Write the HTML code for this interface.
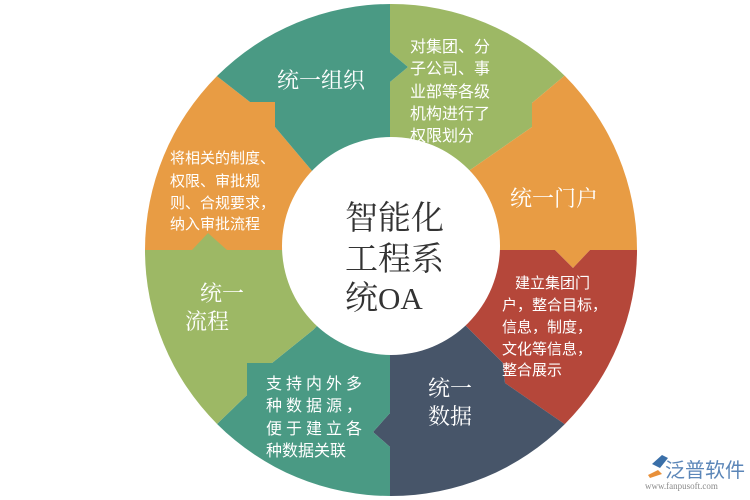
<!DOCTYPE html>
<html><head><meta charset="utf-8"><style>
html,body{margin:0;padding:0;background:#fff;width:750px;height:500px;overflow:hidden}
svg{display:block}
text{font-family:"Liberation Serif","Noto Serif CJK SC",serif;fill:#fff}
.s{font-family:"Liberation Sans","Noto Sans CJK SC",sans-serif}
</style></head><body>
<svg width="750" height="500" viewBox="0 0 750 500" xmlns="http://www.w3.org/2000/svg">
<defs><clipPath id="c"><circle cx="391" cy="250" r="246"/></clipPath></defs>
<g clip-path="url(#c)">
<polygon fill="#e89c44" points="0,0 120,0 218,77 250,102 275,102 275,127 313,172 390,250 0,250"/>
<polygon fill="#9db865" points="390,0 655,0 563,77 532,103 532,127 470,170 390,250 390,82 408,67 390,52"/>
<polygon fill="#4a9a84" points="390,0 390,52 408,67 390,82 390,250 313,172 275,127 275,102 250,102 218,77 120,0"/>
<polygon fill="#e89c44" points="655,0 750,0 750,250 590,250 573,268 555,250 390,250 470,170 532,127 532,103 563,77"/>
<polygon fill="#b5473a" points="390,250 555,250 573,268 590,250 750,250 750,500 675,500 563,423 505,383 503,363 470,330"/>
<polygon fill="#475569" points="390,250 470,330 503,363 505,383 563,423 675,500 390,500 390,447 373,432 390,413"/>
<polygon fill="#4a9a84" points="390,250 390,413 373,432 390,447 390,500 141,500 218,423 247,395 247,363 272,363 313,330"/>
<polygon fill="#9db865" points="390,250 313,330 272,363 247,363 247,395 218,423 141,500 0,500 0,250 192,250 208,233 227,250"/>
</g>
<circle cx="391" cy="246" r="109" fill="#fff"/>
<g font-size="33">
<text x="345" y="229" style="fill:#333">智能化</text>
<text x="345" y="270" style="fill:#333">工程系</text>
<text x="345" y="309" style="fill:#333">统<tspan font-size="31">OA</tspan></text>
</g>
<text x="277" y="88" font-size="22">统一组织</text>
<g font-size="16">
<text class="s" x="410" y="52">对集团、分</text>
<text class="s" x="410" y="74">子公司、事</text>
<text class="s" x="410" y="97">业部等各级</text>
<text class="s" x="410" y="119">机构进行了</text>
<text class="s" x="410" y="141">权限划分</text>
</g>
<text x="510" y="206" font-size="22">统一门户</text>
<g font-size="15">
<text class="s" x="170" y="163">将相关的制度、</text>
<text class="s" x="170" y="186">权限、审批规</text>
<text class="s" x="170" y="208">则、合规要求，</text>
<text class="s" x="170" y="229">纳入审批流程</text>
</g>
<text x="200" y="301" font-size="22">统一</text>
<text x="185" y="329" font-size="22">流程</text>
<g font-size="15">
<text class="s" x="515" y="288">建立集团门</text>
<text class="s" x="502" y="310">户，整合目标，</text>
<text class="s" x="502" y="332">信息，制度，</text>
<text class="s" x="502" y="354">文化等信息，</text>
<text class="s" x="502" y="375">整合展示</text>
</g>
<g font-size="16">
<text class="s" x="266" y="389" letter-spacing="4">支持内外多</text>
<text class="s" x="266" y="411" letter-spacing="4">种数据源，</text>
<text class="s" x="266" y="434" letter-spacing="4">便于建立各</text>
<text class="s" x="266" y="456">种数据关联</text>
</g>
<text x="428" y="396" font-size="22">统一</text>
<text x="428" y="424" font-size="22">数据</text>
<path d="M652,464 l10,-9 l6,3 l-8,10 z" fill="#3a6fa8"/>
<path d="M648,475 l10,-5 l4,4 l-12,4 z" fill="#e8903a"/>
<text x="665" y="477" font-size="20" class="s" style="fill:#5b86b8">泛普软件</text>
<text x="645" y="489" font-size="9" style="fill:#8a8a8a">www.fanpusoft.com</text>
</svg>
</body></html>
